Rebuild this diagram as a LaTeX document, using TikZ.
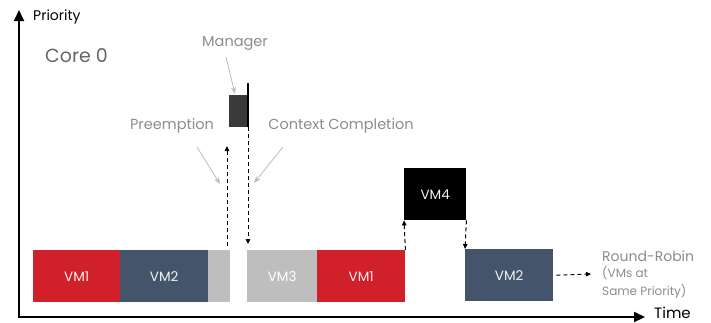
\documentclass[tikz,border=0pt]{standalone}
\usepackage{fontspec}
\setmainfont{Poppins}
\usetikzlibrary{arrows.meta}
\definecolor{vmred}{HTML}{D0202A}
\definecolor{vmslate}{HTML}{44546A}
\definecolor{vmgray}{HTML}{BEBEBF}
\definecolor{mgr}{HTML}{3A3A3A}
\definecolor{lbl}{HTML}{8C8C8C}
\definecolor{callout}{HTML}{BBBBBB}
\begin{document}
\begin{tikzpicture}[x=1pt,y=-1pt,
  vmbox/.style={draw=none,minimum height=52pt,inner sep=0pt,font=\fontsize{13.5}{15}\selectfont,text=white!90!gray},
  lab/.style={text=lbl,font=\fontsize{14.5}{16}\selectfont,inner sep=1pt},
  rrtext/.style={text=lbl,anchor=west,inner sep=0pt},
  callarrow/.style={callout,line width=0.8pt,-{Stealth[length=7pt,width=5pt]}},
  dasharrow/.style={black,line width=1pt,dash pattern=on 4pt off 3pt,-{Triangle[length=5pt,width=4.5pt]}},
  axis/.style={black,line width=2pt,-{Triangle[length=11pt,width=10pt]}}]
\useasboundingbox (0,0) rectangle (711,322);
% axes
\coordinate (origin) at (19,317);
\coordinate (ytop) at (19,10);
\coordinate (xend) at (645,317);
\draw[axis] (origin) -- (ytop);
\draw[axis] ([xshift=-1pt]origin) -- (xend);
\node[anchor=west,inner sep=0pt,font=\fontsize{14}{16}\selectfont] (prio) at (33,17) {Priority};
\node[anchor=base west,inner sep=0pt,font=\fontsize{15}{17}\selectfont] (time) at (654,318) {Time};
\node[anchor=west,inner sep=0pt,text=gray!80!black,font=\fontsize{19}{22}\selectfont] (core) at (45,56) {Core 0};
% bottom boxes
\node[vmbox,fill=vmred,minimum width=87pt,anchor=north west] (vm1a) at (33,250) {VM1};
\node[vmbox,fill=vmslate,minimum width=88pt,anchor=north west] (vm2a) at (120,250) {VM2};
\node[vmbox,fill=vmgray,minimum width=22pt,anchor=north west] (g1) at (208,250) {};
\node[vmbox,fill=vmgray,minimum width=70pt,anchor=north west,text=white] (vm3) at (247,250) {VM3};
\node[vmbox,fill=vmred,minimum width=88pt,anchor=north west] (vm1b) at (317,250) {VM1};
\node[vmbox,fill=black,minimum width=62pt,anchor=north west] (vm4) at (404,168) {VM4};
\node[vmbox,fill=vmslate,minimum width=88pt,anchor=north west] (vm2b) at (465,249) {VM2};
% manager
\node[fill=mgr,minimum width=19pt,minimum height=32pt,inner sep=0pt,anchor=north west] (mgrbox) at (229,95) {};
\coordinate (mtop) at (248,83);
\coordinate (mbot) at (248,127);
\coordinate (mdown) at (248,244);
\coordinate (pstart) at (227,246);
\coordinate (pend) at (227,146);
\draw[black,line width=1.4pt] (mtop) -- (mbot);
\draw[dasharrow] (mbot) -- (mdown);
\draw[dasharrow] (pstart) -- (pend);
% VM4 arrows
\draw[dasharrow] (vm1b.north east) -- (vm4.south west);
\draw[dasharrow] (vm4.south east) -- (vm2b.north west);
% labels
\node[lab] (manager) at (235,43) {Manager};
\node[lab] (preempt) at (172,126) {Preemption};
\node[lab] (ctx) at (341,126) {Context Completion};
\coordinate (marr) at (235,94);
\coordinate (parr) at (220,184);
\coordinate (carr) at (254,183);
\draw[callarrow] (226,57) -- (marr);
\draw[callarrow] (197,147) -- (parr);
\draw[callarrow] (283,147) -- (carr);
% round robin
\node[rrtext,font=\fontsize{14}{16}\selectfont] (rr) at (602,256) {Round-Robin};
\node[rrtext,font=\fontsize{12}{14}\selectfont] (rr2) at (602,273) {(VMs at};
\node[rrtext,font=\fontsize{12}{14}\selectfont] (rr3) at (602,291) {Same Priority)};
\coordinate (rrarr) at (591,274);
\draw[dasharrow,line width=0.9pt] ([xshift=3pt]vm2b.east) -- (rrarr);
\end{tikzpicture}
\end{document}
